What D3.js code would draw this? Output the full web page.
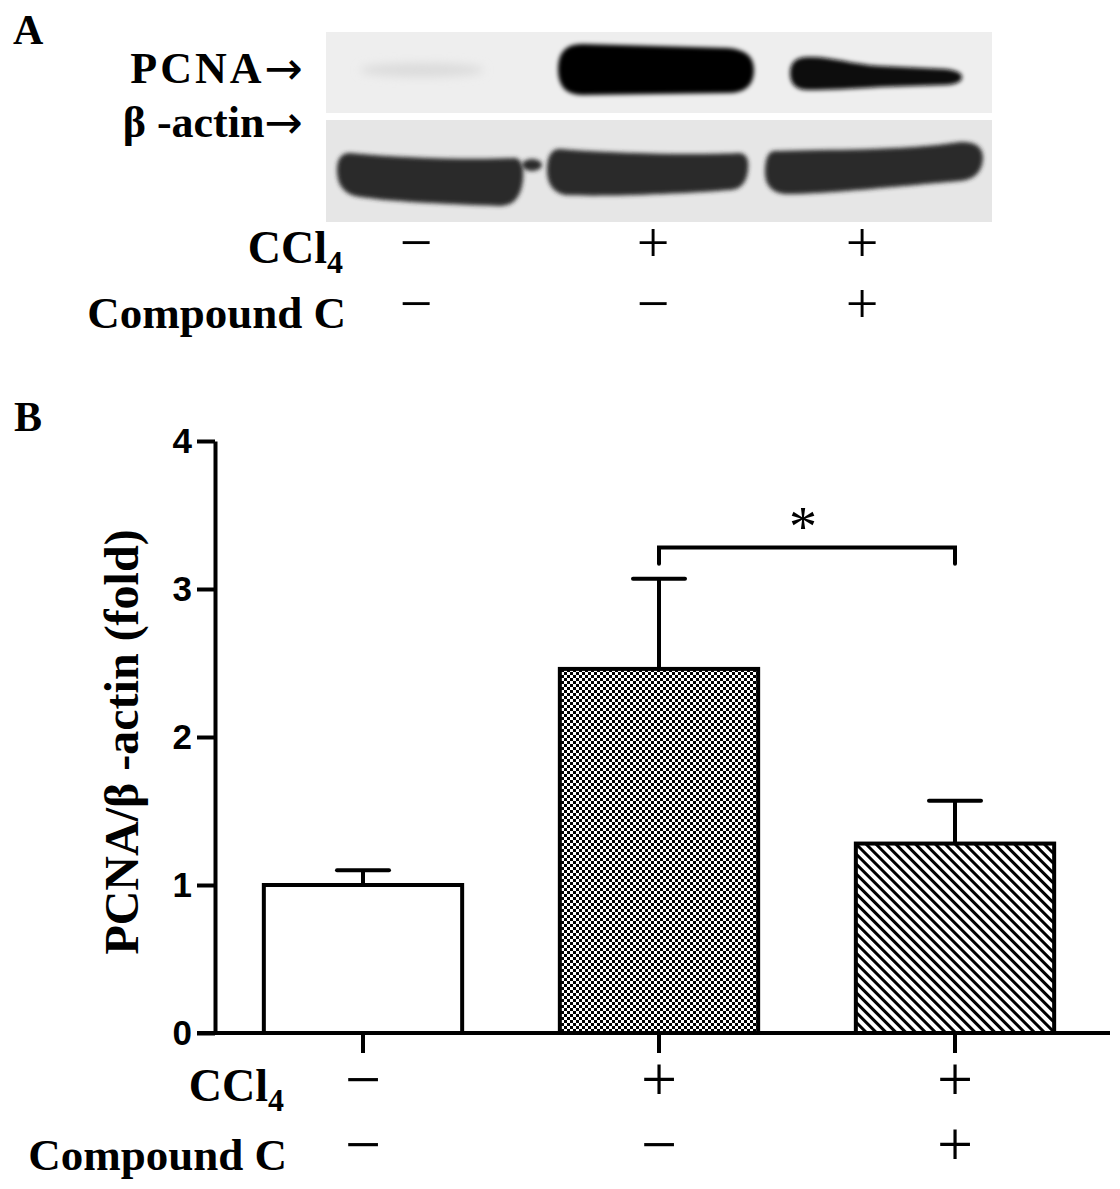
<!DOCTYPE html>
<html>
<head>
<meta charset="utf-8">
<script src="https://cdn.jsdelivr.net/npm/d3@7/dist/d3.min.js"></script>
<style>
  html, body { margin: 0; padding: 0; background: #fff; }
  svg { display: block; }
</style>
</head>
<body>
<script>
// ---------------- data ----------------
const groups = ["Control", "CCl4", "CCl4 + Compound C"];
const means = [1.0, 2.46, 1.28];
const sems = [0.10, 0.61, 0.29];
const yTicks = [0, 1, 2, 3, 4];
const ccl4Signs = ["\u2212", "+", "+"];
const compoundSigns = ["\u2212", "\u2212", "+"];
const pcnaIntensity = [0.08, 1.0, 0.95];
const actinIntensity = [0.88, 0.88, 0.88];
const significance = [{ from: 1, to: 2, label: "*" }];

// ---------------- setup ----------------
const W = 1120, H = 1189;
const serif = "'Liberation Serif','Times New Roman',serif";
const sans = "'Liberation Sans',Arial,sans-serif";

const svg = d3.select("body").append("svg")
  .attr("width", W).attr("height", H)
  .attr("viewBox", `0 0 ${W} ${H}`);

const defs = svg.append("defs");
// checker pattern
const chk = defs.append("pattern").attr("id", "checker")
  .attr("patternUnits", "userSpaceOnUse").attr("width", 6).attr("height", 6);
chk.append("rect").attr("width", 6).attr("height", 6).attr("fill", "#fff");
chk.append("rect").attr("x", 0).attr("y", 0).attr("width", 3).attr("height", 3).attr("fill", "#000");
chk.append("rect").attr("x", 3).attr("y", 3).attr("width", 3).attr("height", 3).attr("fill", "#000");
// hatch pattern
const hatch = defs.append("pattern").attr("id", "hatch")
  .attr("patternUnits", "userSpaceOnUse").attr("width", 7).attr("height", 7)
  .attr("patternTransform", "rotate(-45)");
hatch.append("rect").attr("width", 7).attr("height", 7).attr("fill", "#fff");
hatch.append("line").attr("x1", 1.5).attr("y1", 0).attr("x2", 1.5).attr("y2", 7)
  .attr("stroke", "#000").attr("stroke-width", 3);
// blur filters
defs.append("filter").attr("id", "blurSoft").attr("x", "-20%").attr("y", "-50%").attr("width", "140%").attr("height", "200%")
  .append("feGaussianBlur").attr("stdDeviation", 2);
defs.append("filter").attr("id", "blurWide").attr("x", "-30%").attr("y", "-100%").attr("width", "160%").attr("height", "300%")
  .append("feGaussianBlur").attr("stdDeviation", 5);

// ---------------- Panel A: blot ----------------
const A = svg.append("g");
A.append("text").attr("x", 13).attr("y", 44)
  .attr("font-family", serif).attr("font-weight", "bold").attr("font-size", 42).text("A");

const blotX0 = 326, blotX1 = 992;
A.append("rect").attr("x", blotX0).attr("y", 32).attr("width", blotX1 - blotX0).attr("height", 81).attr("fill", "#eeeeee");
A.append("rect").attr("x", blotX0).attr("y", 120).attr("width", blotX1 - blotX0).attr("height", 102).attr("fill", "#e6e6e6");

const lane = d3.scaleOrdinal().domain(groups).range([430, 650, 874]);
const gray = d3.scaleLinear().domain([0, 1]).range(["#eeeeee", "#000000"]);

// PCNA bands (shape templates relative to lane centre)
const pcnaShapes = [
  null,
  c => `M${c-68},44 L${c+78},48 Q${c+104},50 ${c+104},70 Q${c+104},93 ${c+78},93 L${c-68},95 Q${c-92},95 ${c-92},69 Q${c-92},44 ${c-68},44 Z`,
  c => `M${c-66},57 C${c-44},56 ${c-24},64 ${c+6},66 L${c+71},69 Q${c+88},71 ${c+88},77 Q${c+88},84 ${c+71},85 L${c+6},87 C${c-24},89 ${c-44},90 ${c-66},90 Q${c-84},90 ${c-84},73 Q${c-84},57 ${c-66},57 Z`
];
groups.forEach((g, i) => {
  const c = lane(g);
  if (pcnaShapes[i] === null) {
    A.append("ellipse").attr("cx", c - 8).attr("cy", 70).attr("rx", 62).attr("ry", 7)
      .attr("fill", gray(pcnaIntensity[i])).attr("filter", "url(#blurWide)");
  } else {
    A.append("path").attr("d", pcnaShapes[i](c))
      .attr("fill", gray(pcnaIntensity[i])).attr("filter", "url(#blurSoft)");
  }
});

// beta-actin bands
const actinShapes = [
  c => `M${c-80},153 C${c-30},158 ${c+40},160 ${c+85},158 Q${c+95},160 ${c+93},180 Q${c+90},206 ${c+70},206 C${c+10},204 ${c-50},201 ${c-75},196 Q${c-93},191 ${c-93},170 Q${c-93},153 ${c-80},153 Z`,
  c => `M${c-90},149 C${c-30},154 ${c+50},155 ${c+90},153 Q${c+100},155 ${c+98},170 Q${c+96},189 ${c+80},190 C${c+30},194 ${c-50},197 ${c-85},195 Q${c-103},191 ${c-103},170 Q${c-103},149 ${c-90},149 Z`,
  c => `M${c-99},151 C${c-44},149 ${c+26},151 ${c+86},142 Q${c+109},141 ${c+109},158 Q${c+108},179 ${c+86},181 C${c+26},186 ${c-44},194 ${c-89},194 Q${c-109},192 ${c-109},172 Q${c-109},151 ${c-99},151 Z`
];
const actinColor = d3.scaleLinear().domain([0, 1]).range(["#e6e6e6", "#111111"]);
groups.forEach((g, i) => {
  A.append("path").attr("d", actinShapes[i](lane(g)))
    .attr("fill", actinColor(actinIntensity[i])).attr("filter", "url(#blurSoft)");
});
A.append("ellipse").attr("cx", 532).attr("cy", 165).attr("rx", 10).attr("ry", 6)
  .attr("fill", actinColor(actinIntensity[0])).attr("filter", "url(#blurSoft)");

// blot labels
function blotLabel(txt, yb, spacing) {
  const t = A.append("text").attr("x", 303).attr("y", yb).attr("text-anchor", "end")
    .attr("font-family", serif).attr("font-weight", "bold").attr("font-size", 44);
  t.append("tspan").attr("letter-spacing", spacing).text(txt);
  t.append("tspan").attr("font-family", "'DejaVu Sans',sans-serif").attr("font-weight", "normal")
    .attr("font-size", 46).attr("dy", 1).text("\u2192");
}
blotLabel("PCNA", 83, 3);
blotLabel("\u03B2 -actin", 137, 0);

// treatment rows (shared helper)
function treatmentRows(g, labelRight, rowY, xs, signSize) {
  const t1 = g.append("text").attr("x", labelRight).attr("y", rowY[0] + 16).attr("text-anchor", "end")
    .attr("font-family", serif).attr("font-weight", "bold").attr("font-size", 46);
  t1.append("tspan").text("CCl");
  t1.append("tspan").attr("font-size", 32).attr("dy", 10).text("4");
  g.append("text").attr("x", labelRight + 3).attr("y", rowY[1] + 20).attr("text-anchor", "end")
    .attr("font-family", serif).attr("font-weight", "bold").attr("font-size", 45)
    .text("Compound C");
  [ccl4Signs, compoundSigns].forEach((signs, r) => {
    g.selectAll(null).data(signs).enter().append("text")
      .attr("x", (d, i) => xs[i]).attr("y", rowY[r] + signSize * 0.25)
      .attr("text-anchor", "middle")
      .attr("font-family", serif).attr("font-size", signSize)
      .text(d => d);
  });
}
treatmentRows(A, 343, [247, 308], [416, 653, 862], 58);

// ---------------- Panel B: bar chart ----------------
const B = svg.append("g");
B.append("text").attr("x", 14).attr("y", 431)
  .attr("font-family", serif).attr("font-weight", "bold").attr("font-size", 42).text("B");

const y = d3.scaleLinear().domain([0, 4]).range([1033, 441]);
const x = d3.scaleBand().domain(groups).range([215, 1103]).paddingInner(0.33).paddingOuter(0.165);
const fills = ["#ffffff", "url(#checker)", "url(#hatch)"];

// bars
B.selectAll(".bar").data(groups).enter().append("rect")
  .attr("x", d => x(d)).attr("y", (d, i) => y(means[i]))
  .attr("width", x.bandwidth()).attr("height", (d, i) => y(0) - y(means[i]))
  .attr("fill", (d, i) => fills[i]).attr("stroke", "#000").attr("stroke-width", 4);

// error bars
const eg = B.append("g").attr("stroke", "#000").attr("stroke-width", 4);
groups.forEach((g, i) => {
  const cx = x(g) + x.bandwidth() / 2;
  eg.append("line").attr("x1", cx).attr("x2", cx).attr("y1", y(means[i])).attr("y2", y(means[i] + sems[i]));
  eg.append("line").attr("x1", cx - 26).attr("x2", cx + 26).attr("y1", y(means[i] + sems[i])).attr("y2", y(means[i] + sems[i]))
    .attr("stroke-linecap", "round");
});

// y axis
const yAxis = B.append("g").attr("transform", "translate(215,0)")
  .call(d3.axisLeft(y).tickValues(yTicks).tickSize(18).tickSizeOuter(0).tickPadding(5).tickFormat(d3.format("d")));
yAxis.select(".domain").attr("stroke-width", 4);
yAxis.selectAll(".tick line").attr("stroke-width", 4);
yAxis.selectAll(".tick text").attr("font-family", sans).attr("font-weight", "bold").attr("font-size", 35).attr("fill", "#000");

// x axis
const xAxis = B.append("g").attr("transform", "translate(0,1033)")
  .call(d3.axisBottom(x).tickSize(20).tickSizeOuter(0).tickFormat(""));
xAxis.select(".domain").attr("d", "M197,0H1110").attr("stroke-width", 4);
xAxis.selectAll(".tick line").attr("stroke-width", 4);

// y title
B.append("text").attr("transform", "translate(138,742) rotate(-90)")
  .attr("text-anchor", "middle")
  .attr("font-family", serif).attr("font-weight", "bold").attr("font-size", 48)
  .text("PCNA/\u03B2 -actin (fold)");

// significance bracket
significance.forEach(s => {
  const x1 = x(groups[s.from]) + x.bandwidth() / 2;
  const x2 = x(groups[s.to]) + x.bandwidth() / 2;
  const top = y(3.28), drop = y(3.17);
  B.append("path").attr("d", `M${x1},${drop}V${top}H${x2}V${drop}`)
    .attr("fill", "none").attr("stroke", "#000").attr("stroke-width", 4)
    .attr("stroke-linecap", "round").attr("stroke-linejoin", "miter");
  B.append("text").attr("x", (x1 + x2) / 2 - 4).attr("y", top - 2)
    .attr("text-anchor", "middle").attr("font-family", serif).attr("font-size", 56)
    .text(s.label);
});

treatmentRows(B, 284, [1085, 1150], groups.map(g => x(g) + x.bandwidth() / 2), 64);
</script>
</body>
</html>
